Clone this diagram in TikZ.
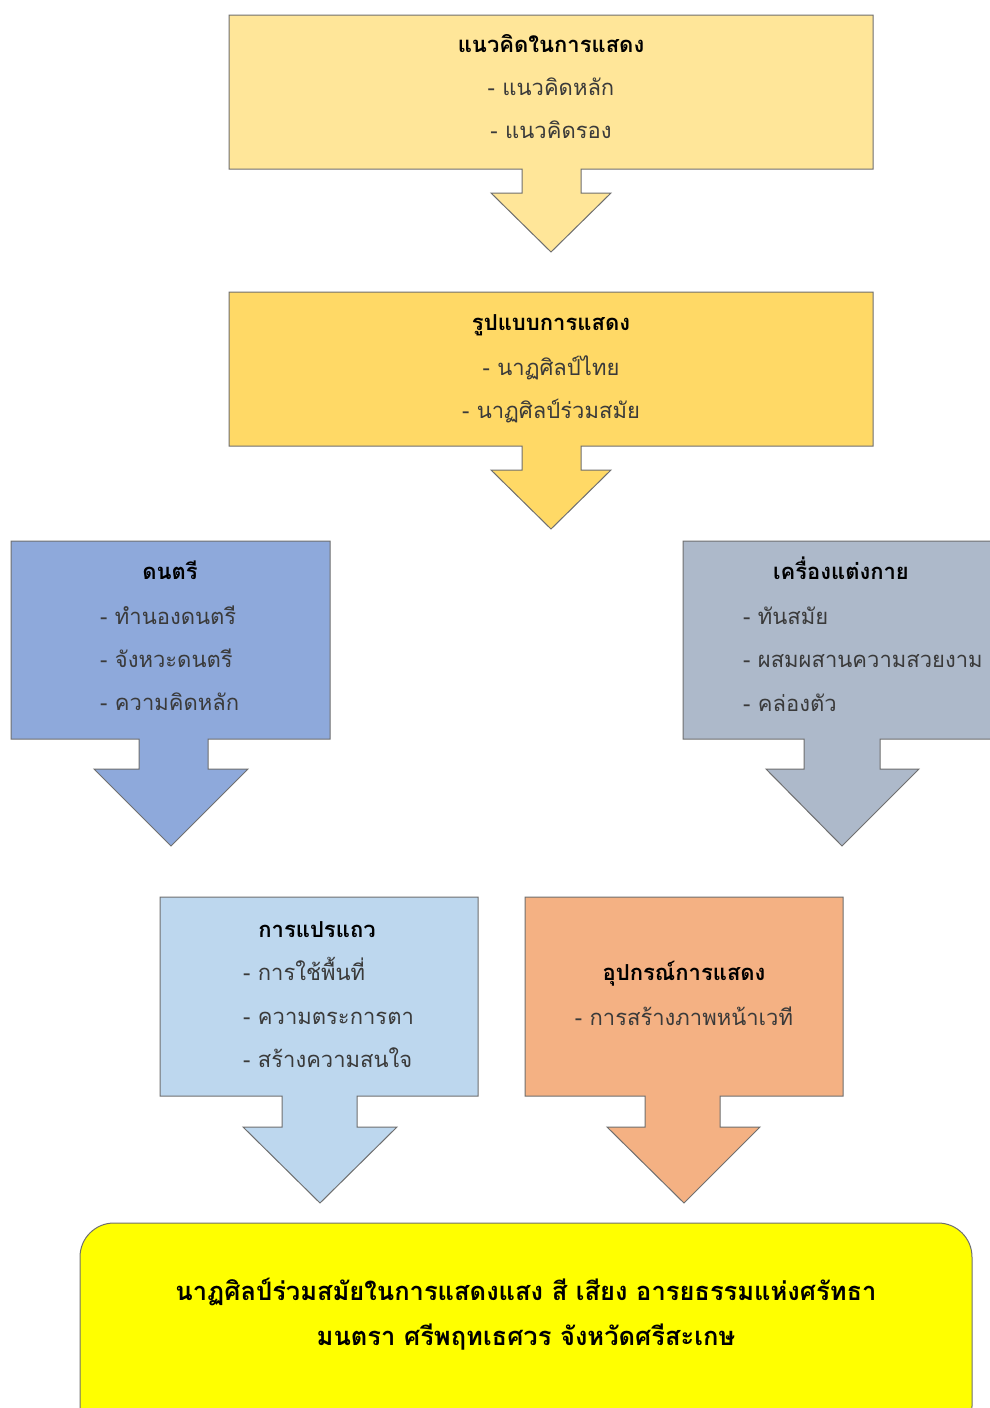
\documentclass[tikz,border=0pt]{standalone}
\usepackage{fontspec}
\newfontfamily\thai[Script=Thai]{Loma}
\definecolor{bordergray}{HTML}{6F6F6F}
\definecolor{cA}{HTML}{FFE699}
\definecolor{cB}{HTML}{FFD966}
\definecolor{cC}{HTML}{8EA9DB}
\definecolor{cD}{HTML}{ADB9CA}
\definecolor{cE}{HTML}{BDD7EE}
\definecolor{cF}{HTML}{F4B183}
\definecolor{cG}{HTML}{FFFF00}
\definecolor{bodytext}{HTML}{3A3A3A}
\tikzset{
  calloutshape/.style={draw=bordergray, line width=1pt},
  ttl/.style={font=\thai\fontsize{22}{26}\selectfont\bfseries, text=black, inner sep=0pt, anchor=base},
  itm/.style={font=\thai\fontsize{22}{26}\selectfont, text=bodytext, inner sep=0pt, anchor=base},
  itml/.style={itm, anchor=base west},
  fin/.style={font=\thai\fontsize{25.5}{30}\selectfont\bfseries, text=black, inner sep=0pt, anchor=base}
}
\begin{document}
\begin{tikzpicture}[x=1pt,y=-1pt]
\useasboundingbox (0,0) rectangle (990,1408);
\fill[white] (0,0) rectangle (990,1408);
\begin{scope}
\clip (0,0) rectangle (990,1408);
% box 1
\filldraw[calloutshape, fill=cA] (229,15) -- (873,15) -- (873,169) -- (581,169) -- (581,193) -- (611,193) -- (551,252) -- (491,193) -- (522,193) -- (522,169) -- (229,169) -- cycle;
% box 2
\filldraw[calloutshape, fill=cB] (229,292) -- (873,292) -- (873,446) -- (581,446) -- (581,470) -- (611,470) -- (551,529) -- (491,470) -- (522,470) -- (522,446) -- (229,446) -- cycle;
% box 3
\filldraw[calloutshape, fill=cC] (11,541) -- (330,541) -- (330,739) -- (208,739) -- (208,769) -- (248,769) -- (171,846) -- (94,769) -- (139,769) -- (139,739) -- (11,739) -- cycle;
% box 4
\filldraw[calloutshape, fill=cD] (683,541) -- (996,541) -- (996,739) -- (880,739) -- (880,769) -- (919,769) -- (842,846) -- (766,769) -- (804,769) -- (804,739) -- (683,739) -- cycle;
% box 5
\filldraw[calloutshape, fill=cE] (160,897) -- (478,897) -- (478,1096) -- (357,1096) -- (357,1127) -- (397,1127) -- (320,1203) -- (243,1127) -- (282,1127) -- (282,1096) -- (160,1096) -- cycle;
% box 6
\filldraw[calloutshape, fill=cF] (525,897) -- (843,897) -- (843,1096) -- (720,1096) -- (720,1127) -- (760,1127) -- (684,1203) -- (607,1127) -- (645,1127) -- (645,1096) -- (525,1096) -- cycle;
% final box
\filldraw[calloutshape, fill=cG, rounded corners=34pt] (80,1223) rectangle (972,1440);
\end{scope}

% texts box 1
\node[ttl] (t1) at (551,52) {แนวคิดในการแสดง};
\node[itm] (t1a) at (551,95) {- แนวคิดหลัก};
\node[itm] (t1b) at (551,138) {- แนวคิดรอง};
% box 2
\node[ttl] (t2) at (551,330) {รูปแบบการแสดง};
\node[itm] (t2a) at (551,375) {- นาฏศิลป์ไทย};
\node[itm] (t2b) at (551,418) {- นาฏศิลป์ร่วมสมัย};
% box 3
\node[ttl] (t3) at (170,579) {ดนตรี};
\node[itml] (t3a) at (100,624) {- ทำนองดนตรี};
\node[itml] (t3b) at (100,667) {- จังหวะดนตรี};
\node[itml] (t3c) at (100,710) {- ความคิดหลัก};
% box 4
\node[ttl] (t4) at (841,579) {เครื่องแต่งกาย};
\node[itml] (t4a) at (743,624) {- ทันสมัย};
\node[itml] (t4b) at (743,667) {- ผสมผสานความสวยงาม};
\node[itml] (t4c) at (743,711) {- คล่องตัว};
% box 5
\node[ttl] (t5) at (317,937) {การแปรแถว};
\node[itml] (t5a) at (243,980) {- การใช้พื้นที่};
\node[itml] (t5b) at (243,1024) {- ความตระการตา};
\node[itml] (t5c) at (243,1067) {- สร้างความสนใจ};
% box 6
\node[ttl] (t6) at (684,980) {อุปกรณ์การแสดง};
\node[itm] (t6a) at (684,1025) {- การสร้างภาพหน้าเวที};
% final
\node[fin] (f1) at (526,1300) {นาฏศิลป์ร่วมสมัยในการแสดงแสง สี เสียง อารยธรรมแห่งศรัทธา};
\node[fin] (f2) at (526,1345) {มนตรา ศรีพฤทเธศวร จังหวัดศรีสะเกษ};
\end{tikzpicture}
\end{document}
